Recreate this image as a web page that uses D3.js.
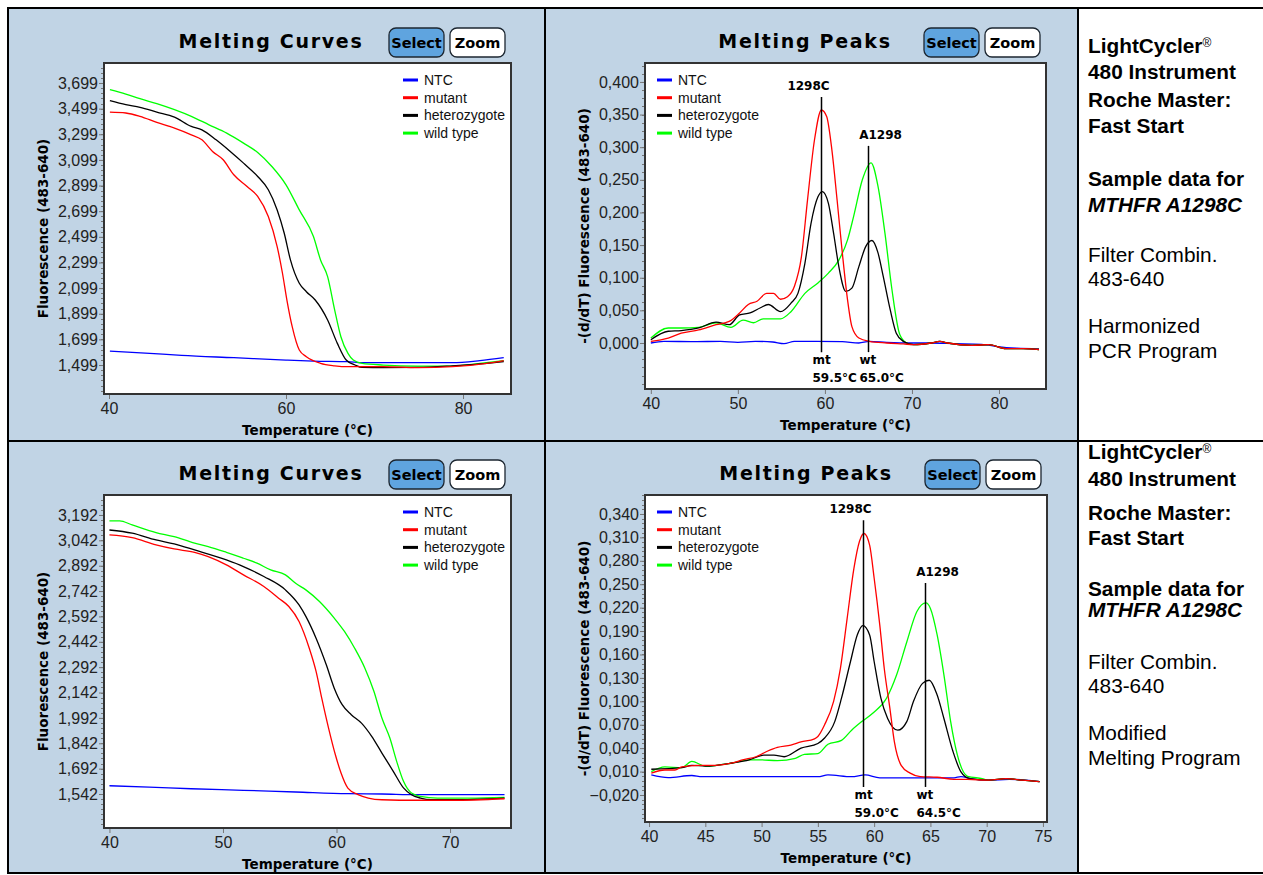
<!DOCTYPE html>
<html>
<head>
<meta charset="utf-8">
<script src="https://cdn.jsdelivr.net/npm/d3@7"></script>
<style>
  body { margin: 0; background: #fff; }
  svg text { font-family: "Liberation Sans", Arial, sans-serif; }
</style>
</head>
<body>
<svg id="chart" width="1263" height="875"></svg>
<script>
// ---------- data ----------
var seriesNames = ['NTC', 'mutant', 'heterozygote', 'wild type'];

// harmonized PCR program: melting curves [temperature °C, fluorescence]
var harmCurveNTC = [[40.1,1608],[44.6,1590],[48.2,1574],[54.1,1556],[60,1538],[63.1,1530],[67,1525],[68.6,1517],[74.9,1517],[78.8,1517],[81.9,1533],[84.6,1556]];
var harmCurveMutant = [[40.1,3472],[41.9,3465],[43.5,3439],[45.4,3392],[47.4,3347],[49.3,3295],[50.5,3256],[51.7,3165],[52.9,3100],[54.1,2983],[55.6,2892],[56.8,2814],[58,2657],[59,2423],[59.6,2215],[60.1,2006],[60.7,1798],[61.5,1616],[62.3,1564],[63.9,1512],[65.5,1493],[67,1486],[71,1486],[74.9,1478],[78.8,1486],[82.7,1512],[84.6,1533]];
var harmCurveHetero = [[40.1,3561],[41.9,3530],[43.5,3509],[45.4,3472],[47.4,3433],[49.3,3360],[50.5,3334],[52.1,3256],[53.7,3165],[55.2,3074],[56.8,2970],[58,2866],[59,2709],[59.8,2527],[60.5,2319],[61.5,2137],[62.3,2071],[63.3,2006],[64.7,1850],[65.8,1668],[66.8,1538],[67.8,1499],[68.6,1480],[71,1478],[74.9,1480],[78.8,1493],[82.7,1512],[84.6,1525]];
var harmCurveWild = [[40.1,3647],[41.9,3613],[43.5,3577],[45.4,3538],[47.4,3491],[49.3,3439],[51.3,3373],[53.3,3308],[55.2,3230],[56.8,3157],[58.4,3048],[60,2905],[61.5,2709],[63.1,2501],[63.9,2319],[64.7,2189],[65.5,1928],[66.2,1720],[67,1590],[67.6,1538],[68.6,1512],[71,1499],[74.9,1491],[78.8,1491],[81.9,1512],[84.6,1533]];

// harmonized PCR program: melting peaks [temperature °C, -(d/dT) fluorescence]
var harmPeakNTC = [[40,0],[41.5,0.0025],[45,0.002],[48,0.0025],[50,0.001],[52,0.0025],[54,0.0015],[55.3,-0.001],[56.5,0.0025],[59,0.0025],[62,0.002],[63.9,0],[65.1,0.0025],[67.1,0.001],[69.8,0],[72,0],[75,-0.001],[78,-0.002],[80,-0.006],[82,-0.008],[84.6,-0.009]];
var harmPeakMutant = [[40,0.0025],[42,0.0076],[43.5,0.015],[45.5,0.02],[47.5,0.028],[49,0.033],[50.2,0.046],[51.2,0.059],[52.2,0.064],[53.3,0.076],[54.1,0.076],[54.9,0.067],[55.7,0.071],[56.5,0.087],[57.3,0.132],[58,0.219],[58.8,0.311],[59.6,0.357],[60.2,0.347],[60.8,0.296],[61.4,0.219],[62,0.138],[62.6,0.066],[63.1,0.025],[63.9,0.0076],[65.1,0.0025],[67.1,0],[69,-0.0015],[70.2,-0.0025],[72.2,0],[73.2,0.0025],[74.1,0],[76.9,-0.0036],[78.8,-0.0025],[80.8,-0.0087],[82.8,-0.0087],[84.6,-0.01]];
var harmPeakHetero = [[40,0.005],[42,0.018],[43.5,0.019],[45.5,0.023],[47.5,0.032],[49,0.028],[50.2,0.043],[51.4,0.046],[52.6,0.054],[53.5,0.059],[54.9,0.048],[56.1,0.061],[56.9,0.076],[57.7,0.122],[58.4,0.183],[59.2,0.224],[59.7,0.232],[60.4,0.214],[61,0.168],[61.6,0.117],[62.4,0.079],[63.1,0.084],[63.9,0.117],[64.7,0.148],[65.4,0.157],[66.1,0.138],[66.7,0.102],[67.5,0.051],[68.2,0.015],[69,0.0025],[70.2,-0.0025],[72.2,0],[73.2,0.0025],[74.1,0],[76.9,-0.0036],[78.8,-0.0025],[80.8,-0.0087],[82.8,-0.0087],[84.6,-0.01]];
var harmPeakWild = [[40,0.0076],[42,0.023],[43.5,0.023],[45.5,0.024],[47.5,0.031],[49.2,0.024],[50.6,0.035],[51.8,0.031],[52.9,0.037],[54.9,0.037],[56.1,0.048],[57.7,0.076],[59.2,0.092],[60.4,0.107],[61.6,0.127],[62.6,0.158],[63.3,0.194],[64.3,0.25],[65.3,0.276],[66.1,0.24],[66.9,0.168],[67.7,0.082],[68.6,0.013],[69.4,0],[70.2,-0.0025],[72.2,0],[73.2,0.0025],[74.1,0],[76.9,-0.0036],[78.8,-0.0025],[80.8,-0.0087],[82.8,-0.0087],[84.6,-0.01]];

// modified melting program: melting curves
var modCurveNTC = [[40,1591],[43.5,1583],[47.2,1573],[51.8,1564],[56.4,1554],[61,1544],[64,1542],[67.1,1538],[70.2,1538],[74.8,1538]];
var modCurveMutant = [[40,3074],[42,3058],[44.1,3015],[45.7,2991],[47.5,2971],[48.7,2946],[50.3,2897],[51.8,2838],[53.6,2769],[54.9,2700],[55.8,2651],[56.7,2562],[57.6,2404],[58.2,2267],[58.7,2109],[59.3,1932],[59.9,1774],[60.4,1666],[61,1577],[61.9,1538],[62.8,1518],[64,1508],[67.1,1505],[70.2,1505],[74.8,1514]];
var modCurveHetero = [[40,3103],[42,3084],[44.1,3044],[45.7,3021],[47.5,2985],[50.3,2926],[51.8,2887],[53.6,2828],[55.5,2749],[56.7,2660],[57.3,2592],[58.2,2463],[59.1,2306],[59.8,2168],[60.5,2070],[61.3,2011],[62.2,1961],[63.1,1883],[64,1784],[65,1676],[65.9,1578],[66.6,1538],[67.4,1518],[68.3,1508],[70.2,1508],[74.8,1518]];
var modCurveWild = [[40,3157],[40.9,3157],[42,3133],[44.1,3088],[45.7,3064],[47.5,3025],[48.7,3005],[50.3,2971],[51.8,2936],[53,2907],[54.2,2867],[55.5,2838],[56.4,2788],[57.3,2749],[58.5,2680],[59.8,2582],[60.7,2503],[61.6,2404],[62.5,2286],[63.3,2148],[64,1991],[64.7,1873],[65.3,1735],[65.9,1617],[66.6,1548],[67.4,1528],[68.9,1518],[70.2,1518],[71.7,1518],[74.8,1522]];

// modified melting program: melting peaks
var modPeakNTC = [[40.2,0.0057],[41.7,0.0022],[43.8,0.005],[44.7,0.0035],[55,0.0035],[55.9,0.0057],[58,0.0035],[59.2,0.0057],[60.5,0.002],[67.1,0.002],[67.7,0.0035],[68.6,0.001],[70.2,-0.001],[72,0],[73.5,-0.001],[74.7,-0.003]];
var modPeakMutant = [[40.2,0.008],[41.4,0.012],[42.3,0.012],[42.9,0.016],[44.4,0.018],[45.9,0.018],[47.4,0.021],[48.3,0.025],[49.5,0.029],[50.5,0.036],[51.4,0.041],[52.6,0.044],[53.5,0.048],[54.7,0.052],[55,0.055],[55.6,0.07],[56.4,0.1],[57,0.142],[57.6,0.206],[58.2,0.27],[58.7,0.305],[59.1,0.315],[59.6,0.3],[60,0.258],[60.5,0.198],[60.9,0.142],[61.4,0.091],[61.8,0.048],[62.4,0.018],[63.2,0.008],[64.1,0.0035],[65.6,0.0027],[67.1,0.0001],[68.3,0],[70.2,-0.001],[71.7,0.001],[73.2,-0.001],[74.7,-0.003]];
var modPeakHetero = [[40.2,0.013],[42.9,0.015],[43.8,0.018],[45,0.017],[47.4,0.021],[48.9,0.025],[50.2,0.031],[51.1,0.031],[52,0.029],[53.5,0.04],[55,0.046],[55.6,0.053],[56.5,0.074],[57.1,0.104],[57.9,0.151],[58.5,0.185],[59,0.197],[59.6,0.185],[60,0.151],[60.6,0.104],[61.2,0.078],[62.1,0.063],[62.9,0.074],[63.5,0.1],[64.3,0.123],[64.9,0.127],[65.6,0.108],[66.2,0.078],[67,0.036],[67.7,0.01],[68.5,0.001],[70.2,-0.001],[71.7,0.001],[73.2,-0.001],[74.7,-0.003]];
var modPeakWild = [[40.2,0.01],[41.4,0.016],[42.9,0.015],[43.8,0.023],[45,0.017],[47.4,0.021],[48.9,0.025],[49.9,0.025],[51.4,0.024],[53,0.027],[53.8,0.032],[55,0.033],[55.9,0.045],[57.1,0.05],[58,0.063],[58.9,0.074],[59.9,0.085],[61.1,0.104],[62,0.134],[62.9,0.176],[63.8,0.215],[64.6,0.226],[65,0.219],[65.6,0.185],[66.2,0.134],[66.8,0.074],[67.4,0.031],[68.3,0.004],[69.6,0.001],[70.2,-0.001],[71.7,0.001],[73.2,-0.001],[74.7,-0.003]];

// tick values
var harmCurveTicks = [1499,1699,1899,2099,2299,2499,2699,2899,3099,3299,3499,3699];
var harmPeakTicks = [0,0.05,0.1,0.15,0.2,0.25,0.3,0.35,0.4];
var modCurveTicks = [1542,1692,1842,1992,2142,2292,2442,2592,2742,2892,3042,3192];
var modPeakTicks = [-0.02,0.01,0.04,0.07,0.1,0.13,0.16,0.19,0.22,0.25,0.28,0.31,0.34];
var harmCurveTempTicks = [40,60,80];
var harmPeakTempTicks = [40,50,60,70,80];
var modCurveTempTicks = [40,50,60,70];
var modPeakTempTicks = [40,45,50,55,60,65,70,75];

// peak annotations
var peakNames = ['1298C', 'A1298'];
var genotypes = ['mt', 'wt'];
var harmPeakTm = [59.5, 65.0];
var harmPeakTop = [0.377, 0.302];
var modPeakTm = [59.0, 64.5];
var modPeakTop = [0.332, 0.2516];

// side notes
var harmNotes = ['LightCycler', '480 Instrument', 'Roche Master:', 'Fast Start', 'Sample data for', 'MTHFR A1298C', 'Filter Combin.', '483-640', 'Harmonized', 'PCR Program'];
var modNotes = ['LightCycler', '480 Instrument', 'Roche Master:', 'Fast Start', 'Sample data for', 'MTHFR A1298C', 'Filter Combin.', '483-640', 'Modified', 'Melting Program'];

// ---------- drawing ----------
var svg = d3.select('#chart');
var cellBg = '#c1d4e5';
var seriesColor = ['#0000ff', '#ff0000', '#000000', '#00ff00'];
var drawOrder = [0, 3, 2, 1];

var fmtCurve = d3.format(',');
var fmtPeak = function(d) { return d3.format('.3f')(d).replace('.', ','); };

var panels = [
  { cell: [8, 8, 545, 441], plot: [104, 63, 511, 394], xDom: [39.435, 85.42], yDom: [1273, 3855],
    title: 'Melting Curves', titleX: 271, yTitle: 'Fluorescence (483-640)',
    xTicks: harmCurveTempTicks, yTicks: harmCurveTicks, minor: 40, fmt: fmtCurve, legendRight: true,
    series: [harmCurveNTC, harmCurveMutant, harmCurveHetero, harmCurveWild] },
  { cell: [545, 8, 1078, 441], plot: [645, 63, 1046, 389], xDom: [39.33, 85.4], yDom: [-0.0705, 0.429],
    title: 'Melting Peaks', titleX: 805, yTitle: '-(d/dT) Fluorescence (483-640)',
    xTicks: harmPeakTempTicks, yTicks: harmPeakTicks, minor: 0.0125, fmt: fmtPeak, legendRight: false,
    series: [harmPeakNTC, harmPeakMutant, harmPeakHetero, harmPeakWild],
    peaks: { tm: harmPeakTm, top: harmPeakTop, bottom: -0.014 } },
  { cell: [8, 441, 545, 873], plot: [104, 495, 511, 828], xDom: [39.52, 75.37], yDom: [1341, 3310],
    title: 'Melting Curves', titleX: 271, yTitle: 'Fluorescence (483-640)',
    xTicks: modCurveTempTicks, yTicks: modCurveTicks, minor: 30, fmt: fmtCurve, legendRight: true,
    series: [modCurveNTC, modCurveMutant, modCurveHetero, modCurveWild] },
  { cell: [545, 441, 1078, 873], plot: [645, 495, 1047, 822], xDom: [39.64, 75.36], yDom: [-0.0546, 0.3643],
    title: 'Melting Peaks', titleX: 806, yTitle: '-(d/dT) Fluorescence (483-640)',
    xTicks: modPeakTempTicks, yTicks: modPeakTicks, minor: 0.006, fmt: fmtPeak, legendRight: false,
    series: [modPeakNTC, modPeakMutant, modPeakHetero, modPeakWild],
    peaks: { tm: modPeakTm, top: modPeakTop, bottom: -0.0097 } }
];

panels.forEach(function(p, pi) {
  var c = p.cell, b = p.plot;
  svg.append('rect').attr('x', c[0]).attr('y', c[1]).attr('width', c[2] - c[0]).attr('height', c[3] - c[1])
    .attr('fill', cellBg);

  var x = d3.scaleLinear().domain(p.xDom).range([b[0], b[2]]);
  var y = d3.scaleLinear().domain(p.yDom).range([b[3], b[1]]);
  var g = svg.append('g');

  g.append('rect').attr('x', b[0]).attr('y', b[1]).attr('width', b[2] - b[0]).attr('height', b[3] - b[1])
    .attr('fill', '#fff');

  // minor y ticks
  var m0 = p.yTicks[0] - Math.floor((p.yTicks[0] - p.yDom[0]) / p.minor) * p.minor;
  var minors = d3.range(m0, p.yDom[1], p.minor);
  g.selectAll('.minor').data(minors).enter().append('line')
    .attr('x1', b[0] - 3).attr('x2', b[0]).attr('y1', function(d) { return Math.round(y(d)) + 0.5; })
    .attr('y2', function(d) { return Math.round(y(d)) + 0.5; })
    .attr('stroke', '#777').attr('stroke-width', 1);

  var yAxis = g.append('g').attr('transform', 'translate(' + b[0] + ',0)')
    .call(d3.axisLeft(y).tickValues(p.yTicks).tickSize(5).tickPadding(1).tickFormat(p.fmt));
  var xAxis = g.append('g').attr('transform', 'translate(0,' + b[3] + ')')
    .call(d3.axisBottom(x).tickValues(p.xTicks).tickSize(5).tickPadding(4).tickFormat(d3.format('d')));
  [yAxis, xAxis].forEach(function(a) {
    a.select('.domain').remove();
    a.selectAll('.tick line').attr('stroke', '#777');
    a.selectAll('.tick text').attr('fill', '#222').style('font-size', '16px')
      .style('font-family', '"Liberation Sans", Arial, sans-serif');
  });

  // curves
  var clipId = 'clip' + pi;
  svg.append('clipPath').attr('id', clipId).append('rect')
    .attr('x', b[0]).attr('y', b[1]).attr('width', b[2] - b[0]).attr('height', b[3] - b[1]);
  var line = d3.line().x(function(d) { return x(d[0]); }).y(function(d) { return y(d[1]); })
    .curve(d3.curveMonotoneX);
  drawOrder.forEach(function(si) {
    g.append('path').datum(p.series[si]).attr('d', line).attr('fill', 'none')
      .attr('stroke', seriesColor[si]).attr('stroke-width', 1.3).attr('clip-path', 'url(#' + clipId + ')');
  });

  // peak markers
  if (p.peaks) {
    p.peaks.tm.forEach(function(tm, k) {
      var px = Math.round(x(tm)) + 0.5, top = y(p.peaks.top[k]), bot = y(p.peaks.bottom);
      g.append('line').attr('x1', px).attr('x2', px).attr('y1', top).attr('y2', bot)
        .attr('stroke', '#000').attr('stroke-width', 1.5);
      var bold = 'font-weight:bold;font-size:12px;font-family:"DejaVu Sans",sans-serif';
      g.append('text').attr('x', px + (k === 0 ? -13 : 12)).attr('y', top - 11).attr('dy', '0.35em')
        .attr('text-anchor', 'middle').attr('style', bold).text(peakNames[k]);
      g.append('text').attr('x', px - 9).attr('y', bot + 8).attr('dy', '0.35em')
        .attr('style', bold).text(genotypes[k]);
      g.append('text').attr('x', px - 9).attr('y', bot + 26).attr('dy', '0.35em')
        .attr('style', bold).text(tm.toFixed(1) + '°C');
    });
  }

  // plot frame
  g.append('rect').attr('x', b[0]).attr('y', b[1]).attr('width', b[2] - b[0]).attr('height', b[3] - b[1])
    .attr('fill', 'none').attr('stroke', '#333').attr('stroke-width', 2);

  // legend
  var lx = p.legendRight ? b[2] - 108 : b[0] + 12;
  seriesNames.forEach(function(name, i) {
    var ly = b[1] + 17 + i * 17.7;
    g.append('line').attr('x1', lx).attr('x2', lx + 15).attr('y1', ly).attr('y2', ly)
      .attr('stroke', seriesColor[i]).attr('stroke-width', 3);
    g.append('text').attr('x', lx + 21).attr('y', ly).attr('dy', '0.35em')
      .style('font-size', '14px').attr('fill', '#111').text(name);
  });

  // titles
  g.append('text').attr('x', p.titleX).attr('y', b[1] - 22).attr('dy', '0.35em').attr('text-anchor', 'middle')
    .attr('style', 'font-family:"DejaVu Sans",sans-serif;font-weight:bold;font-size:19px;letter-spacing:1.7px')
    .text(p.title);
  g.append('text').attr('x', (b[0] + b[2]) / 2).attr('y', b[3] + 36).attr('dy', '0.35em').attr('text-anchor', 'middle')
    .attr('style', 'font-family:"DejaVu Sans",sans-serif;font-weight:bold;font-size:13.5px')
    .text('Temperature (°C)');
  g.append('text').attr('transform', 'translate(' + (b[0] - 61) + ',' + ((b[1] + b[3]) / 2) + ') rotate(-90)')
    .attr('dy', '0.35em').attr('text-anchor', 'middle')
    .attr('style', 'font-family:"DejaVu Sans",sans-serif;font-weight:bold;font-size:13.5px')
    .text(p.yTitle);

  // buttons
  [['Select', '#5fa4df', -122], ['Zoom', '#ffffff', -61]].forEach(function(bt) {
    var bx = b[2] + bt[2], by = b[1] - 35;
    g.append('rect').attr('x', bx).attr('y', by).attr('width', 55).attr('height', 29).attr('rx', 7)
      .attr('fill', bt[1]).attr('stroke', '#1c2630').attr('stroke-width', 1.3);
    g.append('text').attr('x', bx + 27.5).attr('y', by + 15).attr('dy', '0.35em').attr('text-anchor', 'middle')
      .attr('style', 'font-family:"DejaVu Sans",sans-serif;font-weight:bold;font-size:14.5px').text(bt[0]);
  });
});

// side notes
var noteStyle = ['b', 'b', 'b', 'b', 'b', 'bi', 'n', 'n', 'n', 'n'];
var noteY = [[46, 72, 100, 126, 179, 205, 255, 279, 326, 351], [452, 479, 513, 538, 589, 610, 662, 686, 733, 758]];
[harmNotes, modNotes].forEach(function(notes, r) {
  notes.forEach(function(t, i) {
    var st = noteStyle[i];
    var tx = svg.append('text').attr('x', 1088).attr('y', noteY[r][i]).attr('dy', '0.35em')
      .style('font-size', '20.8px').style('font-weight', st === 'n' ? 'normal' : 'bold')
      .style('font-style', st === 'bi' ? 'italic' : 'normal').attr('fill', '#000').text(t);
    if (i === 0) {
      tx.append('tspan').attr('dy', '-0.55em').attr('fill', '#000')
        .style('font-size', '12px').style('font-weight', 'normal').text('®');
    }
  });
});

// table borders
var bw = 2;
svg.append('rect').attr('x', 8).attr('y', 8).attr('width', 1262).attr('height', 865)
  .attr('fill', 'none').attr('stroke', '#000').attr('stroke-width', bw);
[[545, 8, 545, 873], [1078, 8, 1078, 873], [8, 441, 1263, 441]].forEach(function(l) {
  svg.append('line').attr('x1', l[0]).attr('y1', l[1]).attr('x2', l[2]).attr('y2', l[3])
    .attr('stroke', '#000').attr('stroke-width', bw);
});
</script>
</body>
</html>
